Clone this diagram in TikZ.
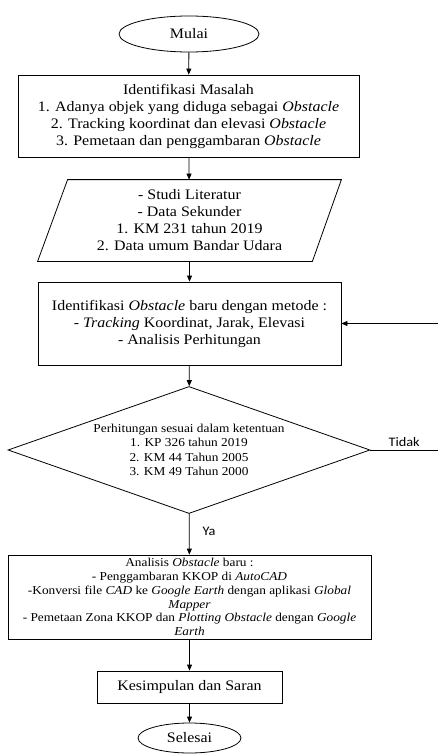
\documentclass[tikz,border=0pt]{standalone}
\usepackage{fontspec}
\setmainfont{Liberation Serif}[FakeStretch=1.1]
\newfontfamily\labelfont{Carlito}[FakeStretch=1.1]
\usetikzlibrary{shapes.geometric,arrows.meta,calc}
\begin{document}
\begin{tikzpicture}[x=1pt,y=-1pt,
  line width=0.8pt,
  bigtext/.style={font=\fontsize{14.5}{17}\selectfont, align=center},
  terminal/.style={ellipse, draw, inner sep=0pt, bigtext},
  procbox/.style={rectangle, draw, inner sep=0pt, bigtext},
  arr/.style={-{Triangle[length=6pt,width=5pt]}},
  lbl/.style={font=\labelfont\fontsize{13}{15}\selectfont, inner sep=0pt}]
\useasboundingbox (0,0) rectangle (438,754);
\node[terminal, minimum width=140pt, minimum height=36pt] (mulai) at (189,34) {Mulai};
\node[procbox, minimum width=341pt, minimum height=82pt] (masalah) at (188.5,116)
  {Identifikasi Masalah\\1. Adanya objek yang diduga sebagai \textit{Obstacle}\\2. Tracking koordinat dan elevasi \textit{Obstacle}\\3. Pemetaan dan penggambaran \textit{Obstacle}};
\node[bigtext, inner sep=0pt, minimum width=303pt, minimum height=81pt] (data) at (189.5,220.5)
  {- Studi Literatur\\- Data Sekunder\\1. KM 231 tahun 2019\\2. Data umum Bandar Udara};
\draw ($(data.north west)+(30,0)$) -- (data.north east) -- ($(data.south east)+(-29,0)$) -- (data.south west) -- cycle;
\node[procbox, minimum width=303pt, minimum height=83pt] (metode) at (189.5,323.5)
  {Identifikasi \textit{Obstacle} baru dengan metode :\\- \textit{Tracking} Koordinat, Jarak, Elevasi\\- Analisis Perhitungan};
\node[diamond, draw, aspect=2.85, inner sep=0pt, minimum width=362pt, minimum height=127pt,
  font=\fontsize{12.1}{14.4}\selectfont, align=center] (cek) at (189,450)
  {Perhitungan sesuai dalam ketentuan\\1. KP 326 tahun 2019\\2. KM 44 Tahun 2005\\3. KM 49 Tahun 2000};
\node[rectangle, draw, inner sep=0pt, minimum width=363pt, minimum height=84pt,
  font=\fontsize{12.1}{13.8}\selectfont, align=center] (analisis) at (189.5,597)
  {Analisis \textit{Obstacle} baru :\\- Penggambaran KKOP di \textit{AutoCAD}\\-Konversi file \textit{CAD} ke \textit{Google Earth} dengan aplikasi \textit{Global}\\\textit{Mapper}\\- Pemetaan Zona KKOP dan \textit{Plotting Obstacle} dengan \textit{Google}\\\textit{Earth}};
\node[procbox, minimum width=185pt, minimum height=32pt] (simpul) at (189.5,687) {Kesimpulan dan Saran};
\node[terminal, minimum width=103pt, minimum height=30pt] (selesai) at (189.5,738) {Selesai};
\coordinate (tidakend) at (438,450);
\coordinate (backstart) at (438,323.5);
\draw[arr] (mulai) -- (masalah);
\draw[arr] (masalah) -- (data);
\draw[arr] (data) -- (metode);
\draw[arr] (metode) -- (cek);
\draw[arr] (cek) -- node[lbl, right, xshift=13pt, pos=0.44] (ya) {Ya} (analisis);
\draw (cek.east) -- node[lbl, above, yshift=3pt] (tidak) {Tidak} (tidakend);
\draw[arr] (backstart) -- (metode.east);
\draw[arr] (analisis) -- (simpul);
\draw[arr] (simpul) -- (selesai);
\end{tikzpicture}
\end{document}
